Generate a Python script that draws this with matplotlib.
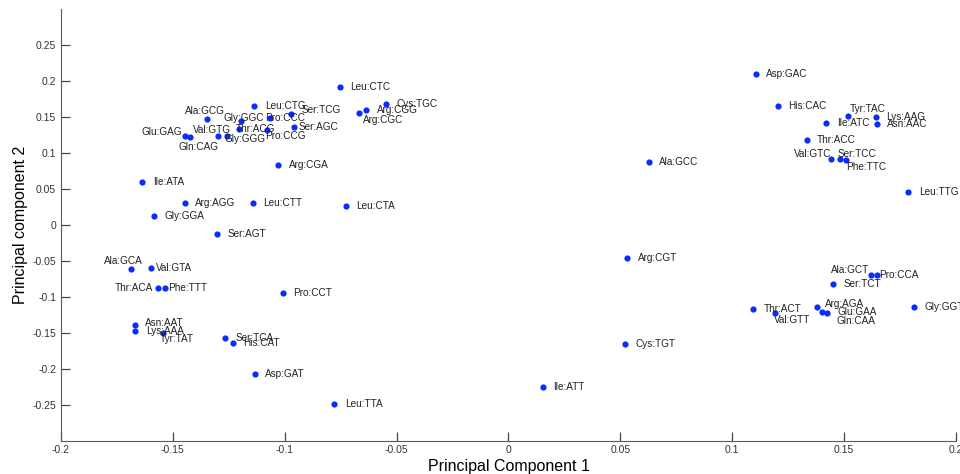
import numpy as np
import matplotlib
matplotlib.use('Agg')
import matplotlib.pyplot as plt

# codon labels and their PCA coordinates
codons = ['Leu:CTC', 'Leu:CTG', 'Cys:TGC', 'Arg:CGG', 'Arg:CGC', 'Ser:TCG', 'Ala:GCG', 'Gly:GGC',
          'Pro:CCC', 'Thr:ACG', 'Val:GTG', 'Gly:GGG', 'Pro:CCG', 'Ser:AGC', 'Glu:GAG', 'Gln:CAG',
          'Arg:CGA', 'Ile:ATA', 'Arg:AGG', 'Leu:CTT', 'Leu:CTA', 'Gly:GGA', 'Ser:AGT', 'Ala:GCA',
          'Val:GTA', 'Thr:ACA', 'Phe:TTT', 'Pro:CCT', 'Asn:AAT', 'Lys:AAA', 'Tyr:TAT', 'Ser:TCA',
          'His:CAT', 'Asp:GAT', 'Leu:TTA', 'Ala:GCC', 'Arg:CGT', 'Cys:TGT', 'Ile:ATT', 'Asp:GAC',
          'His:CAC', 'Tyr:TAC', 'Lys:AAG', 'Asn:AAC', 'Ile:ATC', 'Thr:ACC', 'Val:GTC', 'Ser:TCC',
          'Phe:TTC', 'Leu:TTG', 'Ala:GCT', 'Pro:CCA', 'Ser:TCT', 'Thr:ACT', 'Val:GTT', 'Arg:AGA',
          'Gln:CAA', 'Glu:GAA', 'Gly:GGT']

pc1 = [-0.0754, -0.1136, -0.0547, -0.0636, -0.0670, -0.0972, -0.1347, -0.1194,
       -0.1066, -0.1206, -0.1297, -0.1257, -0.1078, -0.0960, -0.1445, -0.1425,
       -0.1028, -0.1636, -0.1447, -0.1143, -0.0728, -0.1586, -0.1304, -0.1685,
       -0.1596, -0.1566, -0.1535, -0.1008, -0.1671, -0.1667, -0.1544, -0.1268,
       -0.1233, -0.1133, -0.0778, 0.0627, 0.0531, 0.0521, 0.0153, 0.1106,
       0.1204, 0.1516, 0.1641, 0.1646, 0.1421, 0.1333, 0.1441, 0.1483,
       0.1508, 0.1787, 0.1619, 0.1647, 0.1452, 0.1095, 0.1191, 0.1379,
       0.1403, 0.1422, 0.1812]

pc2 = [0.1908, 0.1653, 0.1676, 0.1596, 0.1558, 0.1535, 0.1468, 0.1443,
       0.1489, 0.1336, 0.1239, 0.1229, 0.1311, 0.1353, 0.1232, 0.1218,
       0.0833, 0.0593, 0.0301, 0.0301, 0.0260, 0.0121, -0.0133, -0.0619,
       -0.0597, -0.0875, -0.0883, -0.0953, -0.1389, -0.1476, -0.1500, -0.1569,
       -0.1643, -0.2078, -0.2490, 0.0867, -0.0467, -0.1661, -0.2254, 0.2089,
       0.1653, 0.1514, 0.1492, 0.1403, 0.1413, 0.1181, 0.0908, 0.0908,
       0.0899, 0.0458, -0.0703, -0.0703, -0.0824, -0.1171, -0.1226, -0.1147,
       -0.1208, -0.1226, -0.1147]

# label placement (pixels: dx right, dy down, alignment); default is to the right
label_pos = {
    'Arg:CGC': (4, 7.5, 'left'), 'Ser:TCG': (11, -4, 'left'), 'Ala:GCG': (-2, -8, 'center'),
    'Gly:GGC': (-18, -2.5, 'left'), 'Pro:CCC': (-4.6, 0, 'left'), 'Thr:ACG': (-3, 0, 'left'),
    'Val:GTG': (13, -6, 'right'), 'Gly:GGG': (-2.5, 3, 'left'), 'Pro:CCG': (-2.5, 6, 'left'),
    'Ser:AGC': (5.3, 0, 'left'), 'Glu:GAG': (-3.5, -4.3, 'right'), 'Gln:CAG': (-11, 9.7, 'left'),
    'Ala:GCA': (-8, -8.6, 'center'), 'Val:GTA': (5, 0, 'left'), 'Thr:ACA': (-5, 0, 'right'),
    'Phe:TTT': (3.5, 0, 'left'), 'Asn:AAT': (10, -1.4, 'left'), 'Tyr:TAT': (-3, 6, 'left'),
    'Tyr:TAC': (2, -7, 'left'), 'Val:GTC': (1, -5, 'right'), 'Ser:TCC': (-3, -5, 'left'),
    'Phe:TTC': (0, 7, 'left'), 'Ala:GCT': (-1, -5, 'right'), 'Pro:CCA': (2, 0, 'left'),
    'Val:GTT': (-1, 7, 'left'), 'Arg:AGA': (8, -3, 'left'), 'Glu:GAA': (11, -1, 'left'),
    'Gln:CAA': (14, 9, 'left'),
}

plt.rcParams['font.family'] = ['Liberation Sans', 'DejaVu Sans']

fig = plt.figure(figsize=(9.6, 4.74), dpi=100)
ax = fig.add_axes([0.0635, 0.0703, 0.9323, 0.9113])

ax.scatter(pc1, pc2, s=20, color='#0a2cff', zorder=3, linewidths=0)

px2pt = 72 / 100
for name, x, y in zip(codons, pc1, pc2):
    dx, dy, ha = label_pos.get(name, (10.5, 0, 'left'))
    ax.annotate(name, (x, y), xytext=(dx * px2pt, -dy * px2pt), textcoords='offset points',
                ha=ha, va='center', fontsize=7.2, color='#222222', zorder=4)

ax.set_xlim(-0.2, 0.2)
ax.set_ylim(-0.3, 0.3)
ax.set_xticks(np.arange(-0.2, 0.21, 0.05))
ax.set_xticklabels(['-0.2', '-0.15', '-0.1', '-0.05', '0', '0.05', '0.1', '0.15', '0.2'],
                   fontsize=7.5)
ax.set_yticks(np.arange(-0.25, 0.26, 0.05))
ax.set_yticklabels(['-0.25', '-0.2', '-0.15', '-0.1', '-0.05', '0', '0.05', '0.1', '0.15', '0.2', '0.25'],
                   fontsize=7.5)

for s in ['top', 'right']:
    ax.spines[s].set_visible(False)
for s in ['left', 'bottom']:
    ax.spines[s].set_color('#5a5a5a')
ax.tick_params(direction='in', length=6.5, width=0.9, color='#444444', labelcolor='#333333')
ax.tick_params(axis='x', pad=3)
ax.tick_params(axis='y', pad=3.5)

ax.set_xlabel('Principal Component 1', fontsize=11.5, va='center')
ax.xaxis.set_label_coords(0.5, -0.060)
ax.set_ylabel('Principal component 2', fontsize=11.5, va='center')
ax.yaxis.set_label_coords(-0.045, 0.5)

plt.savefig('out.png', dpi=100)
